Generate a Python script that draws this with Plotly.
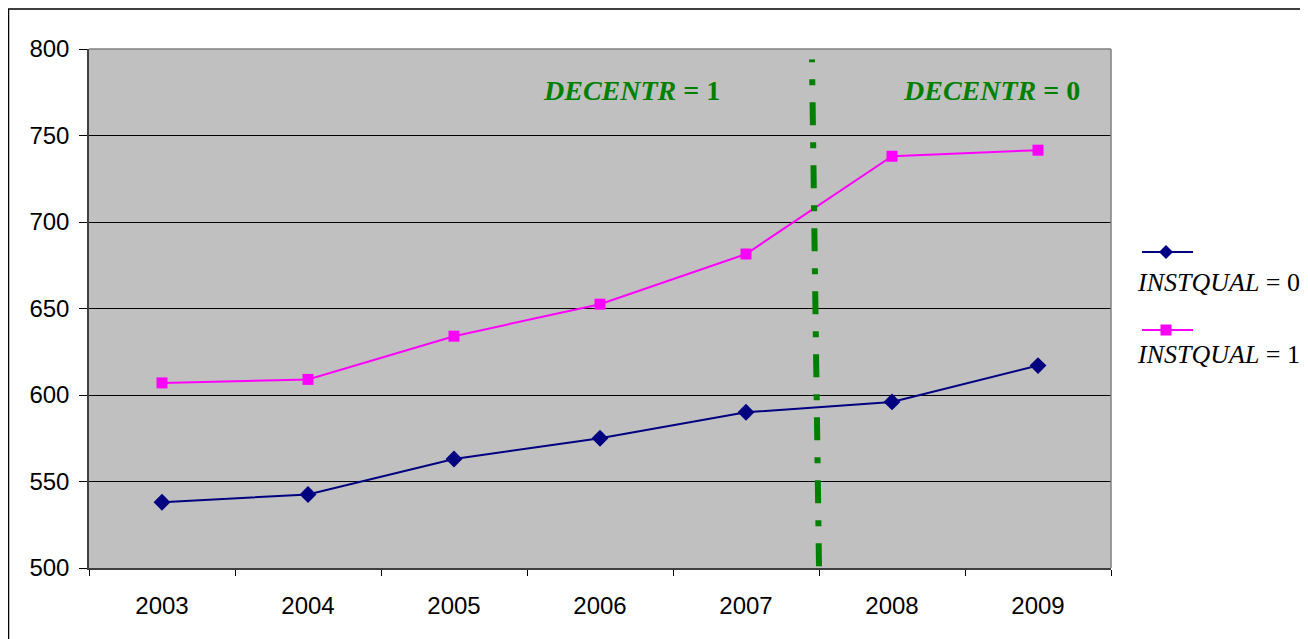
import plotly.graph_objects as go

years = ["2003", "2004", "2005", "2006", "2007", "2008", "2009"]
instqual0 = [538, 542.5, 563, 575, 590, 596, 617]
instqual1 = [607, 609, 634, 652.5, 681.5, 738, 741.5]
series_names = ["<i>INSTQUAL</i> = 0", "<i>INSTQUAL</i> = 1"]
y_ticks = [500, 550, 600, 650, 700, 750, 800]

OFF = 8  # default page margin of the html body
W, H = 1308 - OFF, 639 - OFF
L, R, T, B = 89 - OFF, 1111 - OFF, 49 - OFF, 568 - OFF


def px(x):
    return (x - OFF - L) / (R - L)


def py(y):
    return (B - (y - OFF)) / (B - T)


fig = go.Figure()
fig.add_trace(go.Scatter(x=years, y=instqual0, mode="lines+markers", name=series_names[0],
                         line=dict(color="#000080", width=2),
                         marker=dict(symbol="diamond", size=13, color="#000080")))
fig.add_trace(go.Scatter(x=years, y=instqual1, mode="lines+markers", name=series_names[1],
                         line=dict(color="#FF00FF", width=2),
                         marker=dict(symbol="square", size=11, color="#FF00FF")))

shapes = []
# vertical dash-dot separator
shapes.append(dict(type="line", xref="x", yref="y", x0=4.5, y0=501, x1=4.452, y1=794,
                   line=dict(color="#008000", width=6, dash="23px,17px,6px,17px")))
# outer border
shapes.append(dict(type="rect", xref="paper", yref="paper", x0=px(8.5), x1=px(1306), y0=py(660), y1=py(9),
                   line=dict(color="black", width=1.5), layer="below"))
# plot area top/right border
shapes.append(dict(type="line", xref="paper", yref="paper", x0=0, x1=1, y0=1, y1=1,
                   line=dict(color="#808080", width=1.5)))
shapes.append(dict(type="line", xref="paper", yref="paper", x0=1, x1=1, y0=0, y1=1,
                   line=dict(color="#808080", width=1.5)))

# legend-like keys
for (ly, color, sym) in [(252, "#000080", "diamond"), (330, "#FF00FF", "square")]:
    shapes.append(dict(type="line", xref="paper", yref="paper", x0=px(1142), x1=px(1193), y0=py(ly), y1=py(ly),
                       line=dict(color=color, width=2)))
    cx = 1166
    if sym == "diamond":
        d = 7
        path = "M {} {} L {} {} L {} {} L {} {} Z".format(px(cx - d), py(ly), px(cx), py(ly - d), px(cx + d), py(ly), px(cx), py(ly + d))
        shapes.append(dict(type="path", xref="paper", yref="paper", path=path,
                           fillcolor=color, line=dict(color=color, width=0)))
    else:
        d = 5.5
        shapes.append(dict(type="rect", xref="paper", yref="paper", x0=px(cx - d), x1=px(cx + d), y0=py(ly + d), y1=py(ly - d),
                           fillcolor=color, line=dict(color=color, width=0)))

annotations = [
    dict(text="<b><i>DECENTR</i> = 1</b>", xref="paper", yref="paper", x=px(631), y=py(91), showarrow=False,
         font=dict(family="Liberation Serif", size=28, color="#008000"), xanchor="center", yanchor="middle"),
    dict(text="<b><i>DECENTR</i> = 0</b>", xref="paper", yref="paper", x=px(991), y=py(91), showarrow=False,
         font=dict(family="Liberation Serif", size=28, color="#008000"), xanchor="center", yanchor="middle"),
]
for ty, name in [(282, series_names[0]), (354, series_names[1])]:
    annotations.append(dict(text=name, xref="paper", yref="paper", x=px(1135), y=py(ty), showarrow=False,
                            font=dict(family="Liberation Serif", size=26, color="black"),
                            xanchor="left", yanchor="middle"))

fig.update_layout(
    width=W, height=H,
    margin=dict(l=L, r=W - R, t=T, b=H - B),
    paper_bgcolor="white",
    plot_bgcolor="#C0C0C0",
    showlegend=False,
    shapes=shapes,
    annotations=annotations,
    font=dict(family="Liberation Sans", size=24, color="black"),
)
fig.update_xaxes(type="category", range=[-0.5, 6.5], showgrid=False, showline=True, linecolor="#404040",
                 linewidth=2, ticks="outside", tickson="boundaries", ticklen=6, tickcolor="black",
                 tickfont=dict(family="Liberation Sans", size=24), ticklabelstandoff=15)
fig.update_yaxes(range=[500, 800], tickvals=y_ticks, showgrid=True, gridcolor="black", gridwidth=1,
                 showline=True, linecolor="#404040", linewidth=1.5, ticks="outside", ticklen=8,
                 tickcolor="black", zeroline=False,
                 tickfont=dict(family="Liberation Sans", size=24), ticklabelstandoff=5)

fig.write_html("out.html")
